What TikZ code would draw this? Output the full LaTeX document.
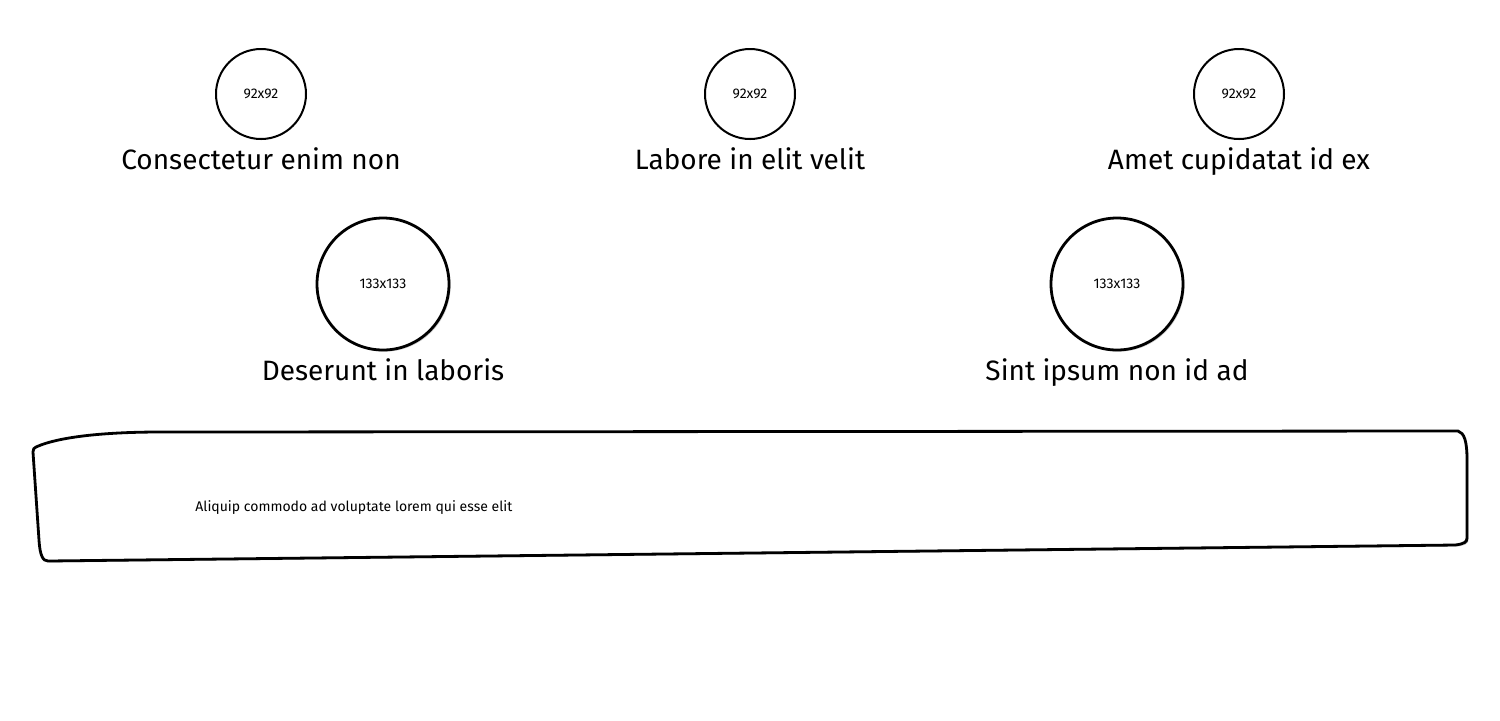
\documentclass[tikz,border=0pt]{standalone}
\usepackage{fontspec}
\setmainfont{Fira Sans}
\usetikzlibrary{positioning}
\usetikzlibrary{shadows}
\tikzstyle{thumb} = [circle, draw=black, line width=1pt, minimum size=45pt, inner sep=0pt, font=\fontsize{7}{8}\selectfont]
\tikzstyle{bigthumb} = [circle, draw=black, line width=1.4pt, minimum size=66pt, inner sep=0pt, fill=white, drop shadow={opacity=0.4, shadow xshift=0.8pt, shadow yshift=-0.8pt}, font=\fontsize{7}{8}\selectfont]
\tikzstyle{caption} = [inner sep=0pt, font=\fontsize{14}{16}\selectfont]
\tikzstyle{panel} = [draw=black, line width=1.4pt, fill=white, drop shadow={opacity=0.4, shadow xshift=0.8pt, shadow yshift=-0.8pt}]
\tikzstyle{note} = [inner sep=0pt, font=\fontsize{7}{8}\selectfont]

\begin{document}
\begin{tikzpicture}[x=0.5pt, y=-0.5pt]

\useasboundingbox (0,0) rectangle (1500,720);

% top row
\node (c1) [thumb] at (261,94) {92x92};
\node (c2) [thumb] at (750,94) {92x92};
\node (c3) [thumb] at (1239,94) {92x92};
\node (l1) [caption, below=3.5pt of c1] {Consectetur enim non};
\node (l2) [caption, below=3.5pt of c2] {Labore in elit velit};
\node (l3) [caption, below=3.5pt of c3] {Amet cupidatat id ex};

% second row
\node (b1) [bigthumb] at (383,284) {133x133};
\node (b2) [bigthumb] at (1117,284) {133x133};
\node (m1) [caption, below=3.5pt of b1] {Deserunt in laboris};
\node (m2) [caption, below=3.5pt of b2] {Sint ipsum non id ad};

% text box
\path [panel] (36,447) .. controls (60,436) and (110,432) .. (160,432)
  -- (1458,431) .. controls (1464,433) and (1467,440) .. (1467,460)
  -- (1467,538) .. controls (1467,542) and (1464,544) .. (1455,545)
  -- (48,561) .. controls (43,561) and (40,556) .. (39,540)
  -- (33,452) .. controls (33,449) and (34,448) .. cycle;
\node (t1) [note, anchor=west] at (195,508) {Aliquip commodo ad voluptate lorem qui esse elit};

\end{tikzpicture}
\end{document}
